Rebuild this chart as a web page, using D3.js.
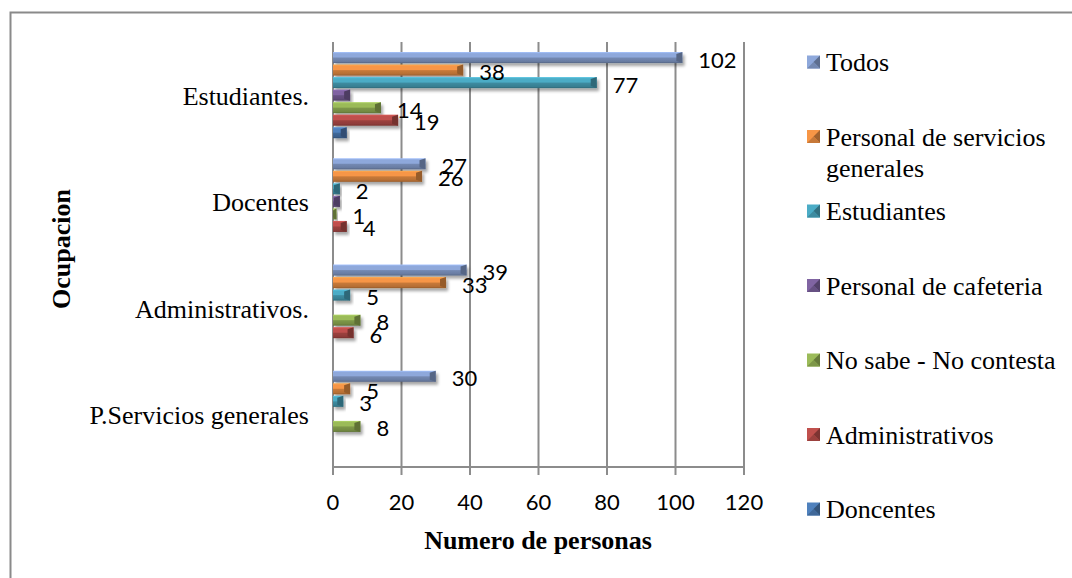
<!DOCTYPE html>
<html>
<head>
<meta charset="utf-8">
<script src="https://cdn.jsdelivr.net/npm/d3@7"></script>
<style>
  html, body { margin: 0; padding: 0; background: #fff; }
  #chart { width: 1072px; height: 578px; }
</style>
</head>
<body>
<div id="chart"></div>
<script>
// Data
const categories = ["Estudiantes.", "Docentes", "Administrativos.", "P.Servicios generales"];
const seriesNames = ["Todos", "Personal de servicios generales", "Estudiantes",
    "Personal de cafeteria", "No sabe - No contesta", "Administrativos", "Doncentes"];
const todos = [102, 27, 39, 30];
const personalServicios = [38, 26, 33, 5];
const estudiantes = [77, 2, 5, 3];
const personalCafeteria = [5, 2, 0, 0];
const noSabe = [14, 1, 8, 8];
const administrativos = [19, 4, 6, 0];
const doncentes = [4, 0, 0, 0];
const xTicks = [0, 20, 40, 60, 80, 100, 120];
// series that carry a value label in the original
const labeledSeries = ["Todos", "Personal de servicios generales", "Estudiantes",
    "No sabe - No contesta", "Administrativos"];

const seriesValues = [todos, personalServicios, estudiantes, personalCafeteria,
    noSabe, administrativos, doncentes];
const seriesColors = ["#8ea8db", "#f79646", "#4bacc6", "#8064a2", "#9bbb59", "#c0504d", "#4f81bd"];

const width = 1072, height = 578;
const plot = { left: 333, right: 744, top: 42, bottom: 467 };
const serif = "'Liberation Serif', 'Times New Roman', serif";
const sans = "Lato, 'Open Sans', sans-serif";

const svg = d3.select("#chart")
    .append("svg")
    .attr("width", width)
    .attr("height", height);

const defs = svg.append("defs");

// soft shadow under the bars
const shadow = defs.append("filter")
    .attr("id", "shadow")
    .attr("x", "-10%").attr("y", "-50%")
    .attr("width", "130%").attr("height", "250%");
shadow.append("feDropShadow")
    .attr("dx", 2).attr("dy", 3)
    .attr("stdDeviation", 1.8)
    .attr("flood-color", "#000")
    .attr("flood-opacity", 0.35);

// bevel-like gradient per series
seriesColors.forEach((c, i) => {
    const g = defs.append("linearGradient")
        .attr("id", "grad" + i)
        .attr("x1", 0).attr("y1", 0).attr("x2", 0).attr("y2", 1);
    const col = d3.color(c);
    [[0, col.brighter(0.4)], [0.15, col], [0.45, col],
     [0.55, col.darker(0.6)], [0.85, col.darker(0.85)], [1, col.darker(1.4)]]
        .forEach(([o, cc]) => g.append("stop").attr("offset", o).attr("stop-color", cc.formatHex()));
});

// outer frame (clipped on right and bottom like the source)
svg.append("rect")
    .attr("x", 10.5).attr("y", 12.5)
    .attr("width", 1100).attr("height", 600)
    .attr("fill", "none")
    .attr("stroke", "#8a8a8a")
    .attr("stroke-width", 2);

// Scales
const x = d3.scaleLinear()
    .domain([0, 120])
    .range([plot.left, plot.right]);

const y0 = d3.scaleBand()
    .domain(categories)
    .range([plot.top, plot.bottom])
    .padding(0);

const y1 = d3.scaleBand()
    .domain(seriesNames)
    .range([0, y0.bandwidth()])
    .paddingInner(0.12)
    .paddingOuter(0.8);

// Gridlines
svg.append("g")
    .selectAll("line")
    .data(xTicks)
    .join("line")
    .attr("x1", d => x(d)).attr("x2", d => x(d))
    .attr("y1", plot.top).attr("y2", plot.bottom + 8)
    .attr("stroke", "#8c8c8c")
    .attr("stroke-width", 2);

// X axis line
svg.append("line")
    .attr("x1", plot.left).attr("x2", plot.right)
    .attr("y1", plot.bottom).attr("y2", plot.bottom)
    .attr("stroke", "#8c8c8c")
    .attr("stroke-width", 2);

// Tick labels
svg.append("g")
    .selectAll("text")
    .data(xTicks)
    .join("text")
    .attr("x", d => x(d))
    .attr("y", 510)
    .attr("text-anchor", "middle")
    .style("font-family", sans)
    .style("font-size", "22px")
    .style("fill", "#000")
    .text(d => d);

// Category labels
svg.append("g")
    .selectAll("text")
    .data(categories)
    .join("text")
    .attr("x", 309)
    .attr("y", d => y0(d) + y0.bandwidth() / 2 + 10)
    .attr("text-anchor", "end")
    .style("font-family", serif)
    .style("font-size", "26px")
    .text(d => d);

// Axis titles
svg.append("text")
    .attr("x", 538)
    .attr("y", 549)
    .attr("text-anchor", "middle")
    .style("font-family", serif)
    .style("font-size", "26px")
    .style("font-weight", "bold")
    .text("Numero de personas");

svg.append("text")
    .attr("transform", "translate(70,249) rotate(-90)")
    .attr("text-anchor", "middle")
    .style("font-family", serif)
    .style("font-size", "26px")
    .style("font-weight", "bold")
    .text("Ocupacion");

// Flatten into one row per bar
const rows = [];
categories.forEach((cat, ci) => {
    seriesNames.forEach((s, si) => {
        rows.push({ cat: cat, series: s, si: si, value: seriesValues[si][ci] });
    });
});

// Bars
const bars = svg.append("g")
    .selectAll("g")
    .data(rows.filter(d => d.value > 0))
    .join("g")
    .attr("filter", "url(#shadow)");

bars.append("rect")
    .attr("x", x(0))
    .attr("y", d => y0(d.cat) + y1(d.series))
    .attr("width", d => x(d.value) - x(0))
    .attr("height", y1.bandwidth())
    .attr("fill", d => `url(#grad${d.si})`);

// dark end cap
bars.append("polygon")
    .attr("points", d => {
        const xe = x(d.value), yt = y0(d.cat) + y1(d.series), h = y1.bandwidth();
        const w = Math.min(6, xe - x(0));
        return [[xe - w, yt + 2], [xe, yt], [xe, yt + h], [xe - w, yt + h - 2]].join(" ");
    })
    .attr("fill", d => d3.color(seriesColors[d.si]).darker(1.4).formatHex());

// Value labels
svg.append("g")
    .selectAll("text")
    .data(rows.filter(d => d.value > 0 && labeledSeries.includes(d.series)))
    .join("text")
    .attr("x", d => x(d.value) + 16)
    .attr("y", d => y0(d.cat) + y1(d.series) + y1.bandwidth() / 2 + 10)
    .style("font-family", sans)
    .style("font-size", "22px")
    .style("fill", "#000")
    .text(d => d.value);

// Legend
const legend = svg.append("g")
    .selectAll("g")
    .data(seriesNames)
    .join("g")
    .attr("transform", (d, i) => `translate(807,${62 + i * 74.5})`);

legend.append("rect")
    .attr("x", 0).attr("y", -6.5)
    .attr("width", 13).attr("height", 13)
    .attr("fill", (d, i) => seriesColors[i]);

legend.append("polygon")
    .attr("points", "13,-6.5 13,6.5 6.5,0")
    .attr("fill", (d, i) => d3.color(seriesColors[i]).darker(1.2).formatHex());

legend.append("polygon")
    .attr("points", "0,6.5 13,6.5 6.5,0")
    .attr("fill", (d, i) => d3.color(seriesColors[i]).darker(0.6).formatHex());

legend.append("text")
    .attr("x", 19)
    .attr("y", 9)
    .style("font-family", serif)
    .style("font-size", "26px")
    .each(function (d) {
        // wrap long entries onto a second line
        const t = d3.select(this);
        const words = d.split(" ");
        let line = [];
        let tspan = t.append("tspan").attr("x", 19).attr("dy", 0);
        words.forEach(w => {
            line.push(w);
            tspan.text(line.join(" "));
            if (tspan.node().getComputedTextLength() > 236 && line.length > 1) {
                line.pop();
                tspan.text(line.join(" "));
                line = [w];
                tspan = t.append("tspan").attr("x", 19).attr("dy", 31).text(w);
            }
        });
    });
</script>
</body>
</html>
